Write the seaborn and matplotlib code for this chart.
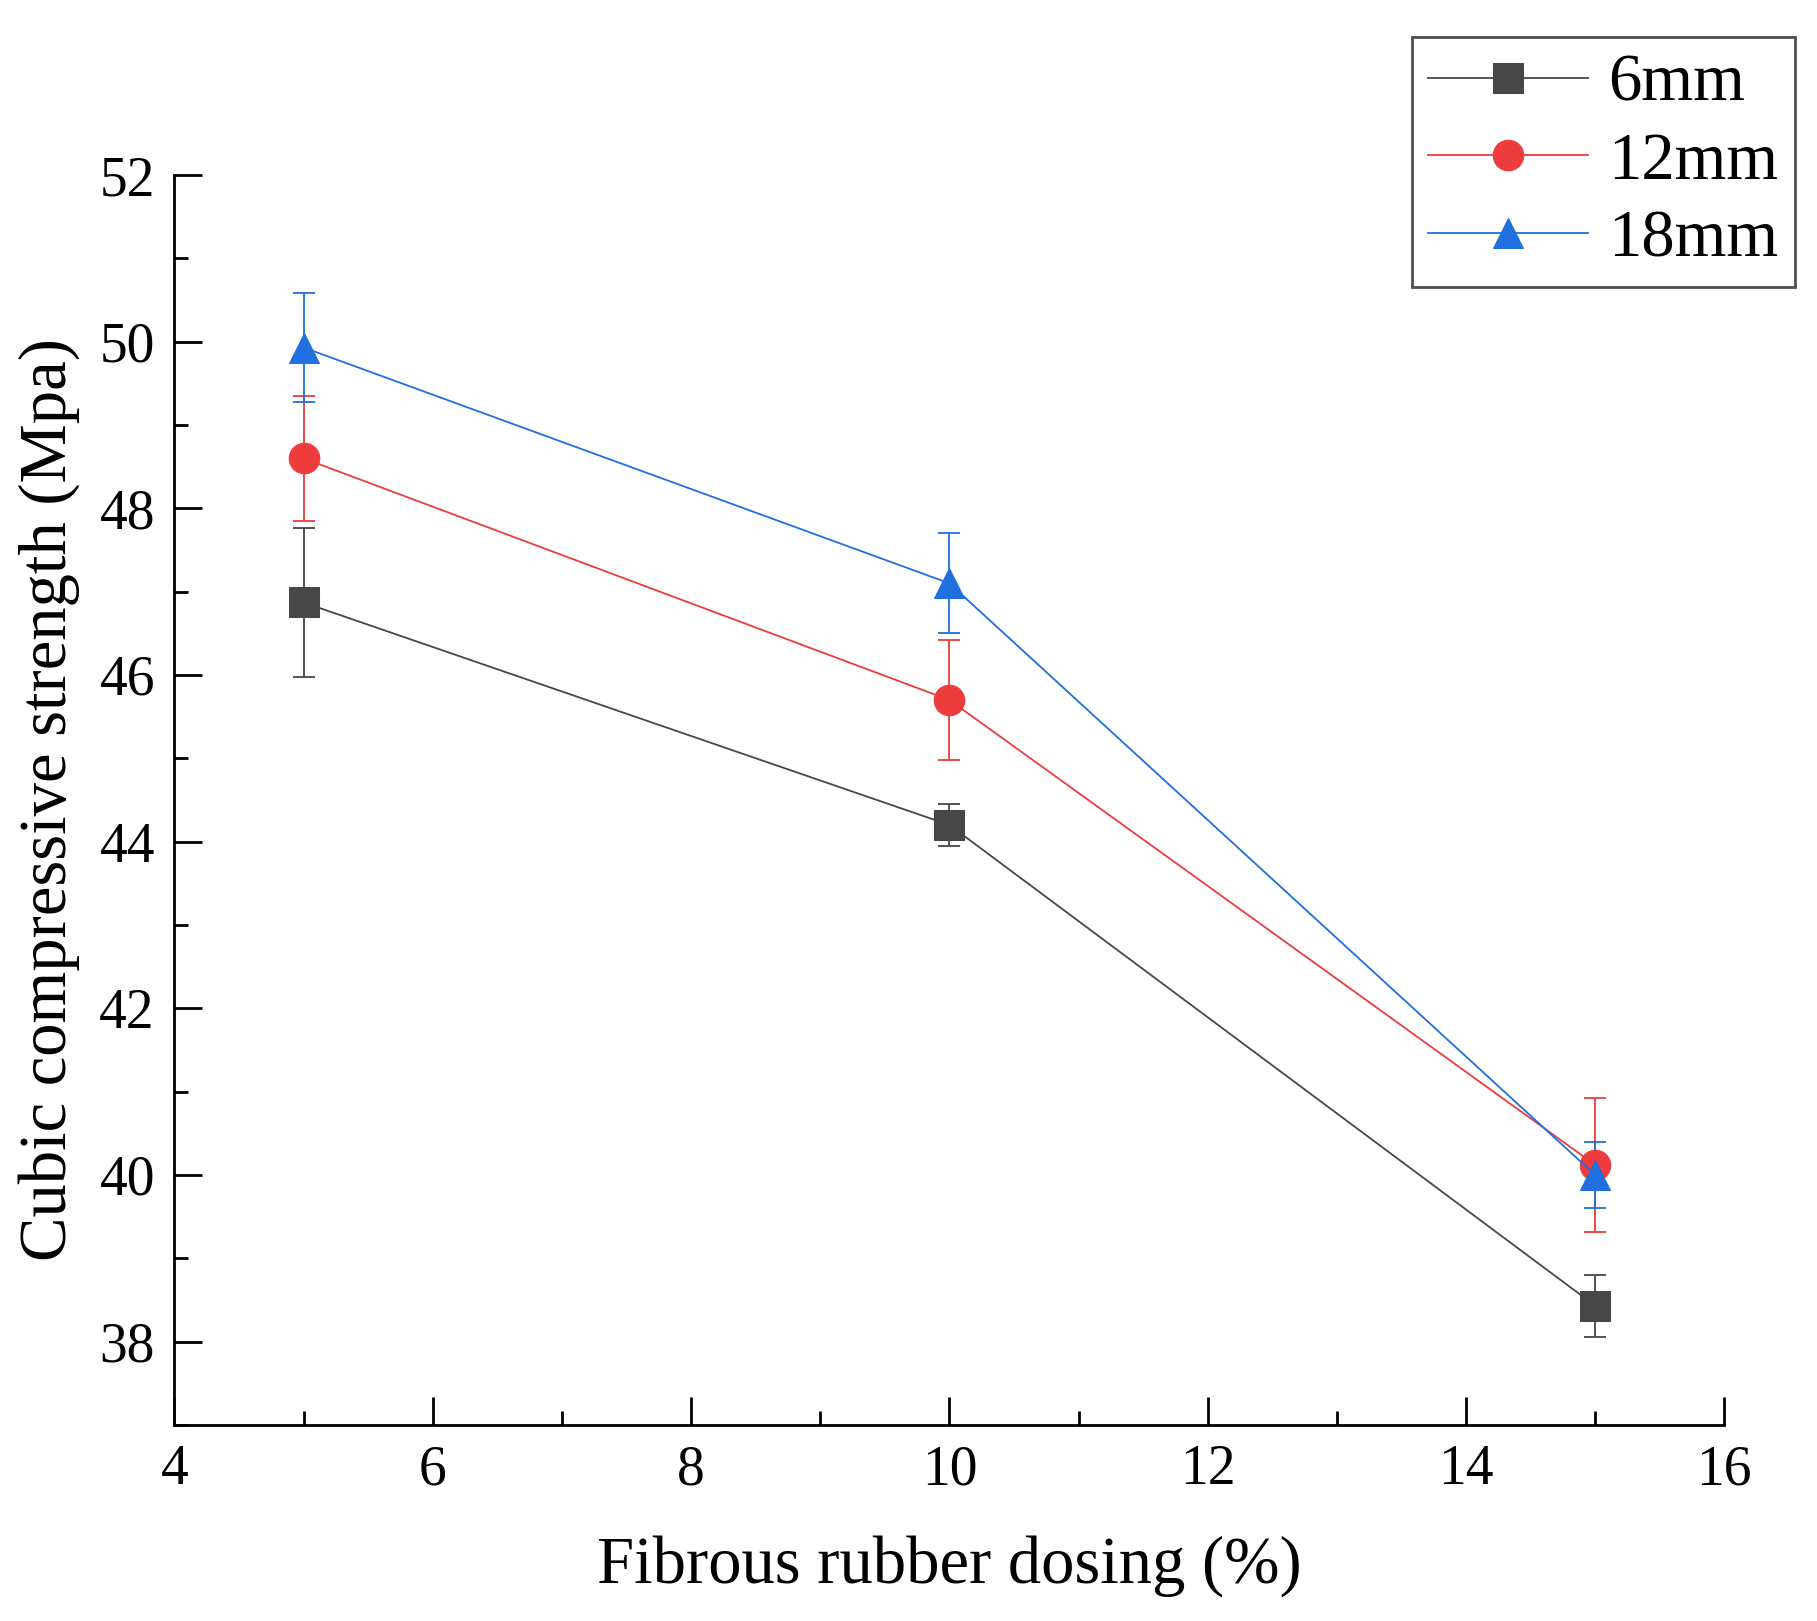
import matplotlib
matplotlib.use("Agg")
import matplotlib.pyplot as plt
from matplotlib.ticker import MultipleLocator
import seaborn as sns
import pandas as pd

dosing = [5, 10, 15]
series = ["6mm", "12mm", "18mm"]
strength_6 = [46.87, 44.20, 38.43]
strength_12 = [48.60, 45.70, 40.12]
strength_18 = [49.93, 47.10, 40.00]
err_6 = [0.90, 0.25, 0.37]
err_12 = [0.75, 0.72, 0.80]
err_18 = [0.65, 0.60, 0.40]

colors = ["#474747", "#ee3b3b", "#1f6fde"]
markers = ["s", "o", "^"]

df = pd.DataFrame({
    "dosing": dosing * 3,
    "strength": strength_6 + strength_12 + strength_18,
    "err": err_6 + err_12 + err_18,
    "size": [s for s in series for _ in dosing],
})

plt.rcParams["font.family"] = "Liberation Serif"
fig = plt.figure(figsize=(18.17, 16.21), dpi=100)
ax = fig.add_axes([0.096, 0.121, 0.853, 0.771])

for name, c, m in zip(series, colors, markers):
    sub = df[df["size"] == name]
    ax.errorbar(sub["dosing"], sub["strength"], yerr=sub["err"], fmt="none",
                ecolor=c, elinewidth=1.3, capsize=8, capthick=1.3, zorder=2)
    sns.lineplot(data=sub, x="dosing", y="strength", color=c, marker=m,
                 markersize=22, markeredgecolor=c, linewidth=1.3, label=name,
                 ax=ax, zorder=3)

ax.set_xlim(4, 16)
ax.set_ylim(37, 52)
ax.xaxis.set_major_locator(MultipleLocator(2))
ax.xaxis.set_minor_locator(MultipleLocator(1))
ax.yaxis.set_major_locator(MultipleLocator(2))
ax.yaxis.set_minor_locator(MultipleLocator(1))
ax.tick_params(which="major", direction="in", length=20, width=2, labelsize=40, pad=14)
ax.tick_params(which="minor", direction="in", length=10, width=2)
for s in ["top", "right"]:
    ax.spines[s].set_visible(False)
for s in ["left", "bottom"]:
    ax.spines[s].set_linewidth(2)
ax.set_xlabel("Fibrous rubber dosing (%)", fontsize=48, labelpad=28)
ax.set_ylabel("Cubic compressive strength (Mpa)", fontsize=48, labelpad=14)

leg = ax.legend(loc="upper right", bbox_to_anchor=(0.988, 0.977), bbox_transform=fig.transFigure,
                fontsize=48, frameon=True, fancybox=False, edgecolor="#222222",
                handlelength=2.4, handletextpad=0.3, borderpad=0.25, labelspacing=0.25,
                borderaxespad=0)
leg.get_frame().set_linewidth(2)

fig.savefig("out.png", dpi=100)
